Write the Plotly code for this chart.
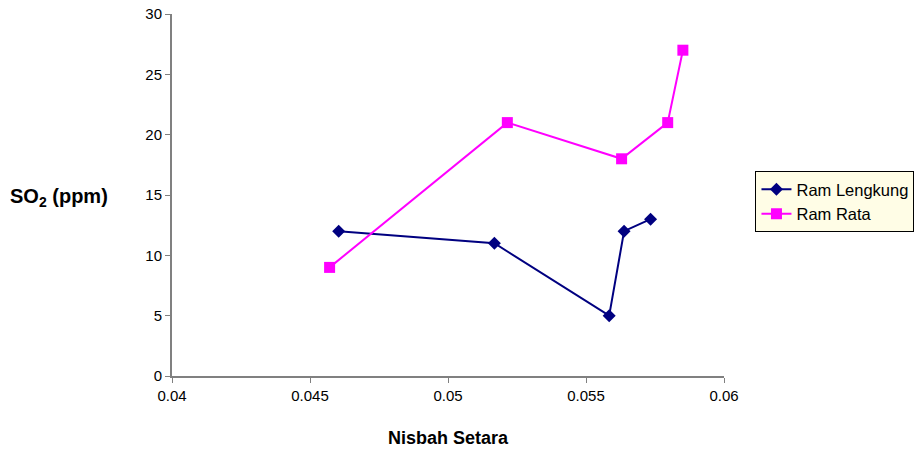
import plotly.graph_objects as go

x_lengkung = [0.04604, 0.05168, 0.05584, 0.05638, 0.05734]
y_lengkung = [12, 11, 5, 12, 13]
x_rata = [0.04571, 0.05215, 0.05629, 0.05796, 0.05851]
y_rata = [9, 21, 18, 21, 27]
x_ticks = [0.04, 0.045, 0.05, 0.055, 0.06]
x_tick_labels = ["0.04", "0.045", "0.05", "0.055", "0.06"]
y_ticks = [0, 5, 10, 15, 20, 25, 30]

FONT = "Liberation Sans, Arial, sans-serif"

fig = go.Figure()
fig.add_trace(go.Scatter(
    x=x_lengkung, y=y_lengkung, mode="lines+markers", name="Ram Lengkung",
    line=dict(color="#000080", width=2),
    marker=dict(symbol="diamond", size=10, color="#000080"),
))
fig.add_trace(go.Scatter(
    x=x_rata, y=y_rata, mode="lines+markers", name="Ram Rata",
    line=dict(color="#FF00FF", width=2),
    marker=dict(symbol="square", size=11, color="#FF00FF"),
))

fig.update_layout(
    width=924, height=453,
    margin=dict(l=172, r=200, t=14, b=77, autoexpand=False),
    paper_bgcolor="white", plot_bgcolor="white",
    font=dict(family=FONT, size=15, color="black"),
    showlegend=True,
    legend=dict(
        x=1.057, y=0.566, xanchor="left", yanchor="top",
        bgcolor="#FFFDE6", bordercolor="black", borderwidth=1,
        font=dict(size=16.5), tracegroupgap=0,
    ),
    xaxis=dict(
        range=[0.04, 0.06], tickvals=x_ticks, ticktext=x_tick_labels,
        showgrid=False, zeroline=False, showline=True, linecolor="#808080",
        linewidth=2, ticks="outside", ticklen=5, tickcolor="#808080",
    ),
    yaxis=dict(
        range=[0, 30], tickvals=y_ticks, showgrid=False, zeroline=False,
        showline=True, linecolor="#808080", linewidth=2, ticks="outside",
        ticklen=5, tickcolor="#808080",
    ),
    annotations=[
        dict(text="<b>SO<sub>2</sub> (ppm)</b>", xref="paper", yref="paper",
             x=-0.297, y=0.494, xanchor="left", yanchor="middle",
             showarrow=False, font=dict(size=20)),
        dict(text="<b>Nisbah Setara</b>", xref="paper", yref="paper",
             x=0.5, y=-0.171, xanchor="center", yanchor="middle",
             showarrow=False, font=dict(size=18)),
    ],
)

fig.write_html(
    "out.html",
    config={"displayModeBar": False},
    post_script="document.body.style.margin='0';document.body.style.overflow='hidden';",
)
